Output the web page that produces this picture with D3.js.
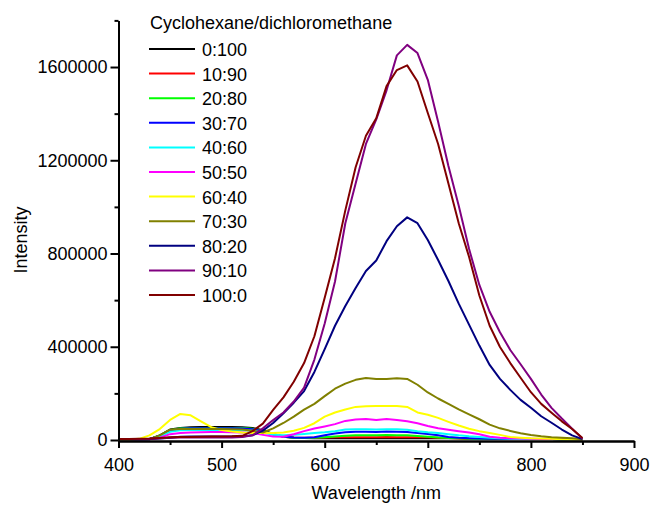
<!DOCTYPE html>
<html>
<head>
<meta charset="utf-8">
<script src="https://cdn.jsdelivr.net/npm/d3@7"></script>
<style>
  body { margin: 0; background: #fff; }
  svg { display: block; font-family: "Liberation Sans", Arial, sans-serif; }
</style>
</head>
<body>
<svg id="chart" width="658" height="506"></svg>
<script>
// Emission wavelengths (nm) at which the spectra are sampled
const wavelengths = [400,410,420,430,440,450,460,470,480,490,
                     500,510,520,530,540,550,560,570,580,590,
                     600,610,620,630,640,650,660,670,680,690,
                     700,710,720,730,740,750,760,770,780,790,
                     800,810,820,830,840,850];

// Solvent ratios (cyclohexane : dichloromethane)
const ratioLabels = ["0:100","10:90","20:80","30:70","40:60","50:50",
                     "60:40","70:30","80:20","90:10","100:0"];

// Intensity per ratio
const s0_100 = [2000,2000,2000,3000,20000,45000,52000,55000,56000,56000,
  56000,56000,55000,52000,42000,26000,14000,10000,9000,8000,
  8000,8000,8000,8000,8000,8000,8000,8000,8000,8000,
  8000,8000,8000,7000,5000,4000,4000,4000,4000,4000,
  4000,4000,4000,3000,3000,3000];
const s10_90 = [2000,2000,2000,3000,18000,40000,47000,49000,50000,50000,
  50000,50000,49000,46000,38000,24000,14000,11000,10000,10000,
  11000,12000,12000,12000,12000,12000,13000,12000,12000,12000,
  12000,10000,9000,6000,4000,4000,4000,4000,4000,4000,
  4000,4000,4000,3000,3000,3000];
const s20_80 = [2000,2000,2000,3000,20000,42000,50000,52000,52000,52000,
  52000,52000,51000,48000,40000,25000,14000,10000,9000,10000,
  12000,15000,18000,20000,20000,20000,21000,20000,20000,17000,
  14000,11000,8600,7000,5000,4000,4000,4000,4000,4000,
  4000,4000,4000,3500,3000,3000];
const s30_70 = [2000,2000,2000,3000,18000,40000,48000,50000,50000,50000,
  50000,50000,49000,46000,38000,25000,15000,11000,10000,12000,
  20000,28000,33000,35000,35000,34000,36000,35000,34000,30000,
  26000,20000,13000,10000,8000,6000,5000,5000,4000,4000,
  4000,4000,4000,3500,3000,3000];
const s40_60 = [2000,2000,2000,3000,15000,35000,42000,43000,43000,43000,
  43000,43000,42000,40000,32000,22000,20000,22000,26000,30000,
  33000,38000,45000,46000,46000,45000,46000,46000,44000,38000,
  33000,30000,25000,20000,16000,13000,10000,7000,5000,4000,
  4000,4000,4000,3500,3500,3000];
const s50_50 = [2000,2000,2000,3000,10000,25000,30000,32000,33000,34000,
  34000,33000,32000,30000,22000,15000,14000,25000,38000,49000,
  58000,68000,82000,88000,90000,86000,90000,86000,80000,72000,
  60000,50000,44000,38000,32000,25000,14000,10000,7000,6000,
  5000,4000,4000,4000,4000,3000];
const s60_40 = [2000,2000,5000,20000,47000,86000,112000,106000,80000,55000,
  43000,36000,32000,30000,30000,30000,32000,40000,52000,72000,
  100000,118000,131000,142000,145000,146000,146000,146000,142000,118000,
  108000,95000,78000,62000,48000,38000,30000,22000,13000,10000,
  7000,6000,5000,3000,2000,2000];
const s70_30 = [2000,2000,3000,4000,20000,44000,47000,47000,47000,47000,
  47000,46000,45000,40000,32000,50000,73000,100000,130000,155000,
  188000,220000,242000,258000,266000,262000,262000,265000,262000,237000,
  204000,178000,155000,131000,110000,89000,66000,50000,39000,29000,
  21000,16000,12000,10000,8000,3000];
const s80_20 = [3000,3000,3000,4000,6000,10000,14000,15000,15000,15000,
  15000,15000,15000,20000,40000,73000,115000,160000,210000,292000,
  390000,490000,575000,652000,725000,770000,853000,917000,955000,930000,
  858000,772000,682000,585000,495000,405000,322000,262000,215000,172000,
  138000,102000,74000,45000,20000,4000];
const s90_10 = [4000,4000,4000,5000,7000,10000,11000,11000,11000,11000,
  11000,11000,13000,20000,50000,86000,118000,165000,225000,345000,
  500000,680000,930000,1100000,1270000,1375000,1500000,1650000,1695000,1660000,
  1545000,1365000,1175000,1005000,820000,665000,550000,462000,386000,325000,
  262000,195000,138000,92000,48000,6000];
const s100_0 = [4000,4000,5000,6000,8600,12000,13000,13000,14000,15000,
  15000,16000,18000,38000,70000,129000,183000,250000,330000,445000,
  610000,780000,985000,1170000,1305000,1380000,1518000,1587000,1607000,1538000,
  1403000,1270000,1100000,930000,786000,620000,490000,399000,330000,267000,
  205000,155000,117000,80000,47000,8600];

// Axis ticks
const xMajorTicks = [400,500,600,700,800,900];
const xMinorTicks = [450,550,650,750,850];
const yMajorTicks = [0,400000,800000,1200000,1600000];
const yMinorTicks = [200000,600000,1000000,1400000,1800000];

// One colour per ratio, in the same order
const lineColors = ["#000000","#ff0000","#00ff00","#0000ff","#00ffff","#ff00ff",
                    "#ffff00","#808000","#000080","#800080","#800000"];

const seriesValues = [s0_100,s10_90,s20_80,s30_70,s40_60,s50_50,
                      s60_40,s70_30,s80_20,s90_10,s100_0];
const series = ratioLabels.map((label, i) => ({
  label,
  color: lineColors[i],
  points: wavelengths.map((w, j) => ({ w, v: seriesValues[i][j] }))
}));

const FONT = 18;
const svg = d3.select("#chart");

const x = d3.scaleLinear().domain([400, 900]).range([118.5, 634]);
const y = d3.scaleLinear().domain([0, 1800000]).range([440, 20.4]);

// Spectra, drawn 0:100 first so that 100:0 ends up on top
const line = d3.line().x(d => x(d.w)).y(d => y(d.v));
svg.append("g")
  .selectAll("path")
  .data(series)
  .join("path")
  .attr("d", d => line(d.points))
  .attr("fill", "none")
  .attr("stroke", d => d.color)
  .attr("stroke-width", 2)
  .attr("stroke-linejoin", "round");

// Axes
const axisY0 = y(0) + 1;
function styleAxis(g) {
  g.select(".domain").attr("stroke", "#000").attr("stroke-width", 2);
  g.selectAll(".tick line").attr("stroke", "#000").attr("stroke-width", 2);
  g.selectAll(".tick text").attr("fill", "#000")
    .style("font-size", FONT + "px")
    .style("font-family", '"Liberation Sans", Arial, sans-serif');
}

svg.append("g")
  .attr("transform", `translate(0,${axisY0})`)
  .call(d3.axisBottom(x).tickValues(xMinorTicks).tickSize(4).tickSizeOuter(0).tickFormat(""))
  .call(styleAxis);
svg.append("g")
  .attr("transform", `translate(0,${axisY0})`)
  .call(d3.axisBottom(x).tickValues(xMajorTicks).tickSize(7).tickSizeOuter(0).tickPadding(10).tickFormat(d3.format("d")))
  .call(styleAxis);

svg.append("g")
  .attr("transform", `translate(${x(400)},0)`)
  .call(d3.axisLeft(y).tickValues(yMinorTicks).tickSize(4).tickSizeOuter(0).tickFormat(""))
  .call(styleAxis);
svg.append("g")
  .attr("transform", `translate(${x(400)},0)`)
  .call(d3.axisLeft(y).tickValues(yMajorTicks).tickSize(8).tickSizeOuter(0).tickPadding(3).tickFormat(d3.format("d")))
  .call(styleAxis);

// Axis titles
svg.append("text")
  .attr("x", (x(400) + x(900)) / 2)
  .attr("y", 499)
  .attr("text-anchor", "middle")
  .style("font-size", FONT + "px")
  .text("Wavelength /nm");

svg.append("text")
  .attr("transform", "translate(27,240) rotate(-90)")
  .attr("text-anchor", "middle")
  .style("font-size", FONT + "px")
  .text("Intensity");

// Legend
const legend = svg.append("g");
legend.append("text")
  .attr("x", 150).attr("y", 29)
  .style("font-size", FONT + "px")
  .text("Cyclohexane/dichloromethane");

const rowStep = 24.6, rowTop = 49;
const rows = legend.selectAll("g.row")
  .data(series)
  .join("g")
  .attr("class", "row")
  .attr("transform", (d, i) => `translate(0,${rowTop + i * rowStep})`);
rows.append("line")
  .attr("x1", 149).attr("x2", 195)
  .attr("y1", 0).attr("y2", 0)
  .attr("stroke", d => d.color)
  .attr("stroke-width", 2);
rows.append("text")
  .attr("x", 202).attr("y", 7)
  .style("font-size", FONT + "px")
  .text(d => d.label);
</script>
</body>
</html>
